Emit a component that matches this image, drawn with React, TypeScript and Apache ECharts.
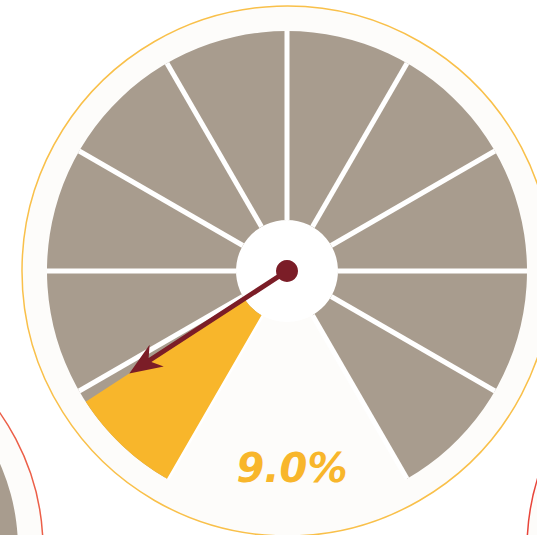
import React, { useEffect, useRef } from "react";
import * as echarts from "echarts";

const gaugeValue: number[] = [9.0];
const scaleMin = 0;
const scaleMax = 100;
const segmentCount = 10;

const GRAY = "#a89c8e";
const YELLOW = "#f8b62b";
const DARK_RED = "#7b1d27";
const OFF_WHITE = "#fdfcfa";

export default function App() {
  const ref = useRef<HTMLDivElement>(null);
  useEffect(() => {
    if (!ref.current) return;
    const chart = echarts.init(ref.current, null, { renderer: "svg" });
    const cx = 287;
    const cy = 271;
    const R = 240;
    const ringW = 189;
    const common = {
      type: "gauge",
      center: [cx, cy],
      radius: R,
      startAngle: 240,
      endAngle: -60,
      min: scaleMin,
      max: scaleMax,
      splitNumber: segmentCount,
      axisTick: { show: false },
      axisLabel: { show: false },
      title: { show: false },
    };
    chart.setOption({
      animation: false,
      backgroundColor: "#ffffff",
      graphic: [
        { type: "circle", shape: { cx: -193, cy: 549, r: 236 }, style: { fill: OFF_WHITE, stroke: "#ec5f48", lineWidth: 1.5 } },
        { type: "circle", shape: { cx: -193, cy: 549, r: 211 }, style: { fill: GRAY } },
        { type: "circle", shape: { cx: 763, cy: 549, r: 236 }, style: { fill: OFF_WHITE, stroke: "#e8453a", lineWidth: 1.5 } },
        { type: "circle", shape: { cx, cy, r: 265 }, style: { fill: OFF_WHITE, stroke: "#f9c04a", lineWidth: 1.5 } },
        { type: "circle", shape: { cx, cy, r: R - ringW }, style: { fill: "#ffffff" } },
      ],
      series: [
        {
          ...common,
          z: 2,
          axisLine: { lineStyle: { width: ringW, color: [[1, GRAY]] } },
          progress: { show: true, width: ringW, itemStyle: { color: YELLOW } },
          splitLine: { show: true, distance: -ringW, length: ringW, lineStyle: { color: "#ffffff", width: 5 } },
          pointer: { show: false },
          anchor: { show: false },
          detail: {
            show: true,
            offsetCenter: [5, 197],
            formatter: (v: number) => v.toFixed(1) + "%",
            color: YELLOW,
            fontSize: 40,
            fontWeight: "bold",
            fontStyle: "italic",
            fontFamily: "DejaVu Sans",
          },
          data: gaugeValue.map((v) => ({ value: v })),
        },
        {
          ...common,
          z: 5,
          axisLine: { show: false },
          progress: { show: false },
          splitLine: { show: false },
          pointer: {
            show: true,
            icon: "path://M13 0 L26 33 L15.5 25 L15.5 190 L10.5 190 L10.5 25 L0 33 Z",
            length: 188,
            width: 26,
            offsetCenter: [0, 0],
            itemStyle: { color: DARK_RED },
          },
          anchor: { show: true, showAbove: true, size: 22, itemStyle: { color: DARK_RED } },
          detail: { show: false },
          data: gaugeValue.map((v) => ({ value: v })),
        },
      ],
    });
    return () => chart.dispose();
  }, []);
  return (
    <div
      ref={ref}
      style={{ position: "absolute", left: 0, top: 0, width: 537, height: 535 }}
    />
  );
}
